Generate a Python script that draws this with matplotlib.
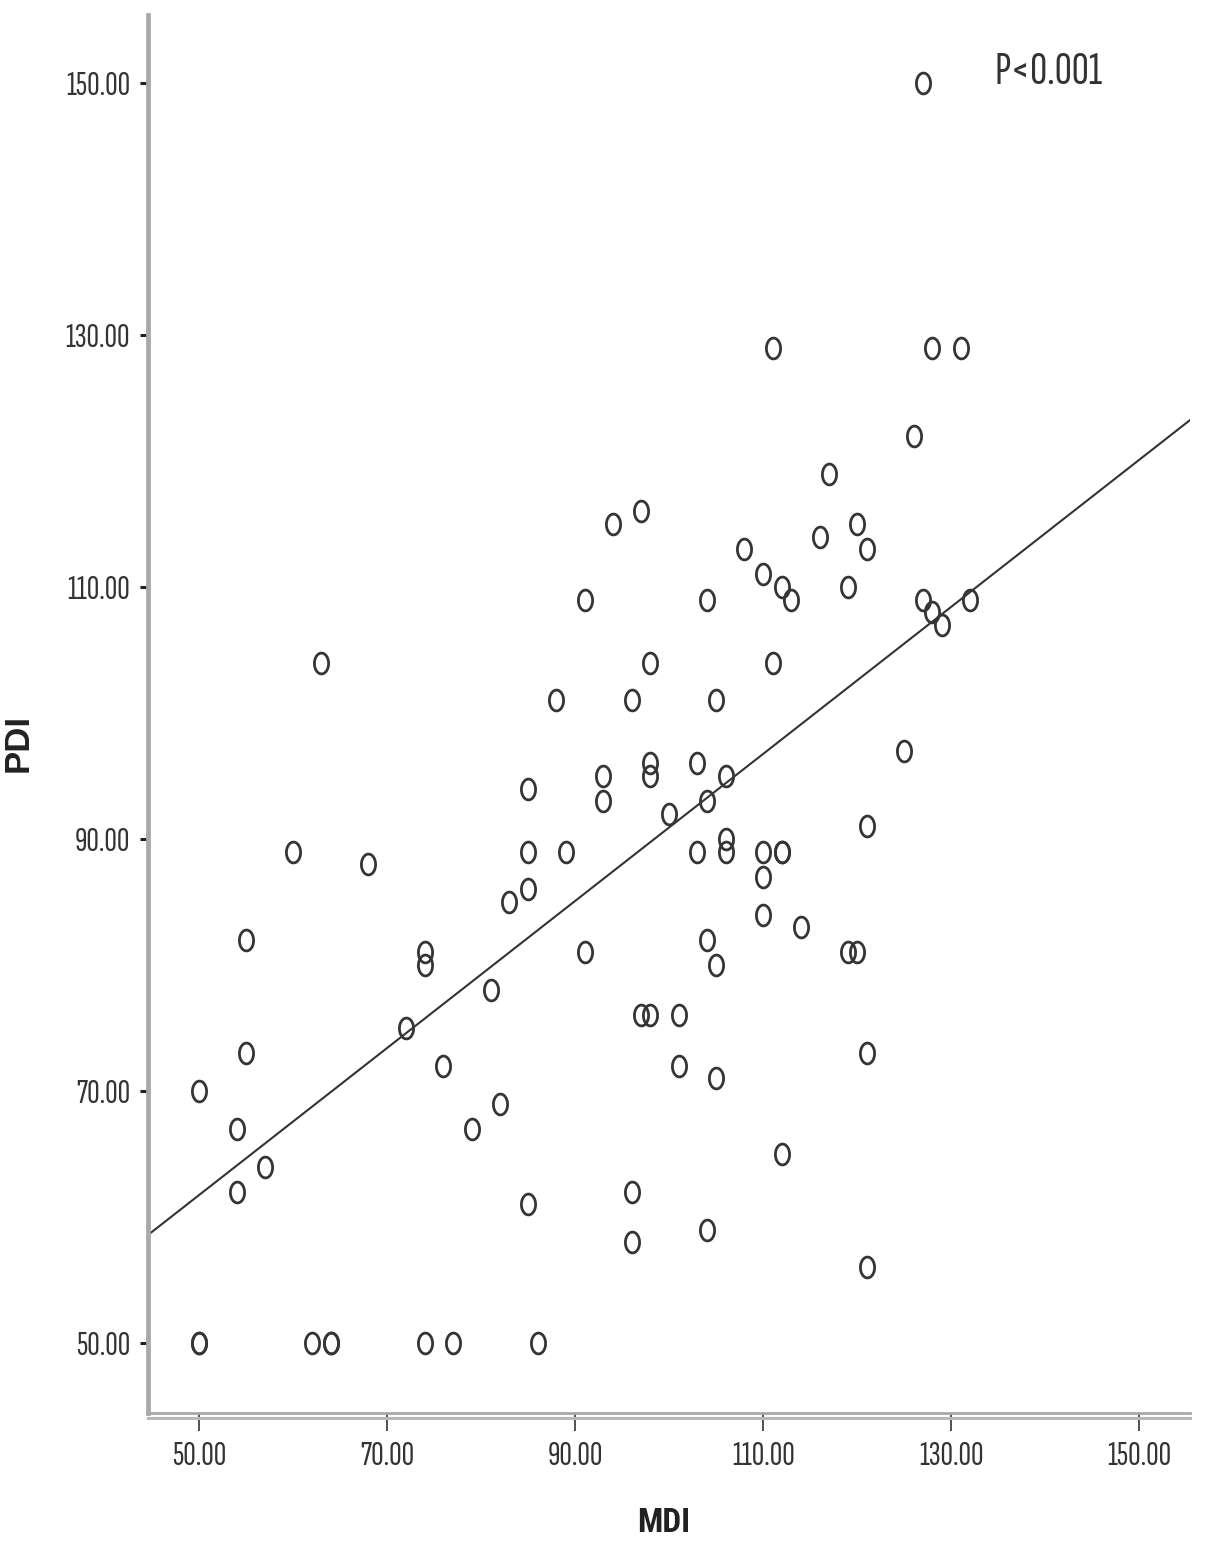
import numpy as np
import matplotlib
matplotlib.use("Agg")
import matplotlib.pyplot as plt
from matplotlib.path import Path
from matplotlib.lines import Line2D
import matplotlib.transforms as mtransforms

# ---- data ----
mdi = [127, 111, 128, 131, 126, 117, 94, 97, 120, 121, 116, 108, 110, 112, 113, 119,
       104, 91, 127, 128, 129, 132, 63, 98, 111, 88, 96, 105, 125, 103, 98, 98,
       93, 93, 106, 104, 85, 100, 121, 60, 85, 89, 103, 106, 106, 110, 112, 112,
       68, 110, 85, 83, 110, 114, 55, 104, 74, 74, 91, 119, 120, 105, 81, 72,
       97, 98, 101, 55, 121, 76, 101, 105, 50, 82, 54, 79, 57, 112, 54, 96,
       85, 104, 96, 121, 50, 50, 62, 64, 64, 74, 77, 86]
pdi = [150, 129, 129, 129, 122, 119, 115, 116, 115, 113, 114, 113, 111, 110, 109, 110,
       109, 109, 109, 108, 107, 109, 104, 104, 104, 101, 101, 101, 97, 96, 96, 95,
       95, 93, 95, 93, 94, 92, 91, 89, 89, 89, 89, 90, 89, 89, 89, 89,
       88, 87, 86, 85, 84, 83, 82, 82, 81, 80, 81, 81, 81, 80, 78, 75,
       76, 76, 76, 73, 73, 72, 72, 71, 70, 69, 67, 67, 64, 65, 62, 62,
       61, 59, 58, 56, 50, 50, 50, 50, 50, 50, 50, 50]
fit_slope = 0.5836
fit_intercept = 32.56
ticks = [50, 70, 90, 110, 130, 150]
tick_labels = ["50.00", "70.00", "90.00", "110.00", "130.00", "150.00"]
x_label = "MDI"
y_label = "PDI"
p_text = "P<0.001"

narrow = ["Sofia Sans Extra Condensed", "Roboto Condensed", "Liberation Sans", "DejaVu Sans"]
xlabel_font = ["Roboto Condensed", "Liberation Sans", "DejaVu Sans"]
ylabel_font = ["Liberation Sans", "DejaVu Sans"]

fig = plt.figure(figsize=(12.05, 15.46), dpi=100)
ax = fig.add_axes([0.1228, 0.0860, 0.8648, 0.9043])

xlim = (44.57, 155.4)
ylim = (44.44, 155.4)
ax.set_xlim(*xlim)
ax.set_ylim(*ylim)

# elliptical open-circle marker (the reference is vertically stretched)
t = np.linspace(0, 2 * np.pi, 73)
ell = Path(np.column_stack([0.68 * np.cos(t), np.sin(t)]), closed=True)

ax.plot(mdi, pdi, linestyle="none", marker=ell, markersize=15,
        markerfacecolor="none", markeredgecolor="#353535", markeredgewidth=2.0,
        zorder=3)

xs = np.array(xlim)
ax.plot(xs, fit_slope * xs + fit_intercept, color="#333333", linewidth=1.5,
        zorder=2, clip_on=True)

ax.text(140.3, 150.8, p_text, ha="center", va="center", fontsize=34,
        color="#333333", family=narrow)

for s in ["top", "right"]:
    ax.spines[s].set_visible(False)
ax.spines["left"].set_color("#a8a8a8")
ax.spines["left"].set_linewidth(3.4)
ax.spines["bottom"].set_color("#a8a8a8")
ax.spines["bottom"].set_linewidth(2.0)

# shadow line under the bottom spine (double-line look)
shadow = Line2D([0, 1], [0, 0], transform=ax.transAxes + mtransforms.ScaledTranslation(
    0, -5 / 100, fig.dpi_scale_trans), color="#b8b8b8", linewidth=2.2, clip_on=False)
ax.add_line(shadow)

ax.set_xticks(ticks)
ax.set_xticklabels(tick_labels, family=narrow, fontsize=25, color="#333333")
ax.set_yticks(ticks)
ax.set_yticklabels(tick_labels, family=narrow, fontsize=25, color="#333333")
ax.tick_params(axis="x", direction="out", length=13, width=1.3, color="#444444", pad=7)
ax.tick_params(axis="y", direction="out", length=6, width=2.2, color="#222222", pad=7)

ax.set_xlabel(x_label, fontsize=24, fontweight="bold", family=xlabel_font, color="#222222")
ax.set_ylabel(y_label, fontsize=25, fontweight="bold", family=ylabel_font, color="#222222")
ax.xaxis.set_label_coords(0.4945, -0.067)
ax.yaxis.set_label_coords(-0.1085, 0.479)

fig.savefig("out.png", dpi=100, facecolor="white")
